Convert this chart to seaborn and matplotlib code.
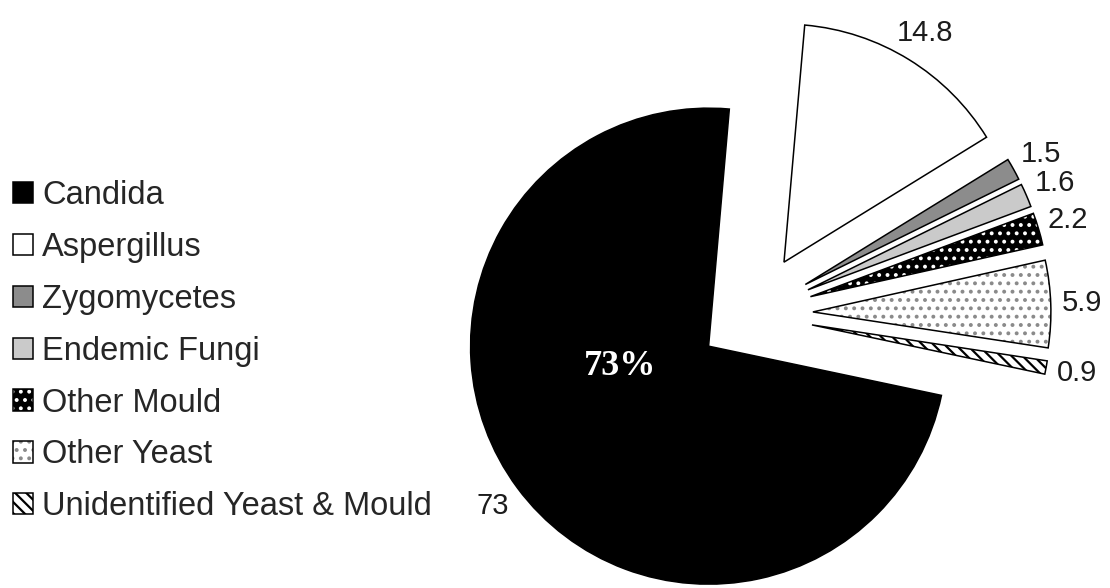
import matplotlib
matplotlib.use("Agg")
import matplotlib.pyplot as plt
import matplotlib.patches as mpatches
from matplotlib.legend_handler import HandlerTuple
import seaborn as sns

# Distribution of invasive fungal infections (%)
categories = ["Candida", "Aspergillus", "Zygomycetes", "Endemic Fungi",
              "Other Mould", "Other Yeast", "Unidentified Yeast & Mould"]
shares = [73, 14.8, 1.5, 1.6, 2.2, 5.9, 0.9]
value_labels = ["73", "14.8", "1.5", "1.6", "2.2", "5.9", "0.9"]
highlight_label = "73%"

# Grayscale styling per category
face_colors = ["#000000", "#ffffff", "#8c8c8c", "#cacaca", "#000000", "#ffffff", "#ffffff"]
hatch_colors = [None, None, None, None, "#ffffff", "#8a8a8a", "#000000"]
hatches = [None, None, None, None, "..", "..", "\\\\\\"]
explode_frac = [0.227, 0.256, 0.256, 0.256, 0.256, 0.256, 0.256]

sns.set_theme(style="white")
plt.rcParams["font.family"] = ["Liberation Sans", "DejaVu Sans"]
plt.rcParams["hatch.linewidth"] = 1.6

W, H = 1110, 588
fig = plt.figure(figsize=(W / 100, H / 100), dpi=100)
ax = fig.add_axes([0, 0, 1, 1])

radius = 238
center = (752, H - 314)

# Slices run clockwise from the top: Aspergillus ... Unidentified, then Candida
order = list(range(1, len(categories))) + [0]
wedges, texts = ax.pie(
    [shares[i] for i in order],
    labels=[value_labels[i] for i in order],
    explode=[explode_frac[i] * radius for i in order],
    colors=[face_colors[i] for i in order],
    startangle=85, counterclock=False,
    radius=radius, center=center,
    labeldistance=1.13,
    wedgeprops=dict(edgecolor="black", linewidth=1.1),
    textprops=dict(fontsize=21, color="#1c1c1c"),
)
for t in texts:
    t.set_ha("center")
    t.set_va("center")

for w, i in zip(wedges, order):
    if hatches[i]:
        w.set_edgecolor(hatch_colors[i])
        w.set_hatch(hatches[i])
        w.set_linewidth(0)
        outline = mpatches.Wedge(w.center, w.r, w.theta1, w.theta2,
                                 fill=False, edgecolor="black", linewidth=1.1)
        ax.add_patch(outline)

# Emphasised share inside the Candida slice
candida = wedges[order.index(0)]
ax.text(candida.center[0] - 89, candida.center[1] - 20, highlight_label,
        color="white", fontsize=26, fontweight="bold", family="Liberation Serif",
        ha="center", va="center")

ax.set_xlim(0, W)
ax.set_ylim(0, H)
ax.set_aspect("equal")
ax.axis("off")

# Legend with square swatches
handles = []
for i in range(len(categories)):
    if hatches[i]:
        handles.append((
            mpatches.Patch(facecolor=face_colors[i], edgecolor=hatch_colors[i],
                           hatch=hatches[i], linewidth=0),
            mpatches.Patch(fill=False, edgecolor="black", linewidth=1.1),
        ))
    else:
        handles.append(mpatches.Patch(facecolor=face_colors[i], edgecolor="black",
                                      linewidth=1.1))

fig.legend(handles, categories, loc="upper left",
           bbox_to_anchor=(13 / W, 1 - 180 / H),
           frameon=False, fontsize=23.5, handlelength=0.62, handleheight=0.62,
           handletextpad=0.28, labelspacing=0.64, borderpad=0, borderaxespad=0,
           handler_map={tuple: HandlerTuple(ndivide=1)})

fig.savefig("out.png", dpi=100)
